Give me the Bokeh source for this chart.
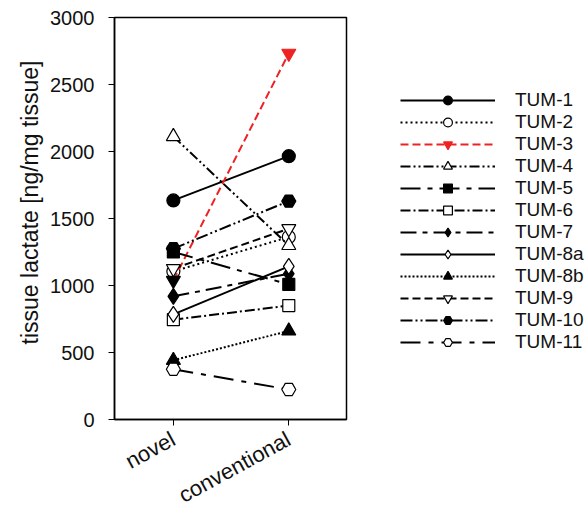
import math
from bokeh.plotting import figure
from bokeh.layouts import row
from bokeh.models import Legend, LegendItem, Title, FixedTicker
from bokeh.embed import file_html
from bokeh.resources import INLINE

# ---- data ----
groups = ["novel", "conventional"]
x_pos = [1, 2]
names = ["TUM-1", "TUM-2", "TUM-3", "TUM-4", "TUM-5", "TUM-6",
         "TUM-7", "TUM-8a", "TUM-8b", "TUM-9", "TUM-10", "TUM-11"]
tum1 = [1635, 1965]
tum2 = [1105, 1362]
tum3 = [1038, 2733]
tum4 = [2112, 1299]
tum5 = [1250, 1008]
tum6 = [745, 850]
tum7 = [919, 1088]
tum8a = [785, 1143]
tum8b = [442, 661]
tum9 = [1126, 1424]
tum10 = [1275, 1630]
tum11 = [375, 224]
values = [tum1, tum2, tum3, tum4, tum5, tum6, tum7, tum8a, tum8b, tum9, tum10, tum11]
y_ticks = [0, 500, 1000, 1500, 2000, 2500, 3000]
y_title = "tissue lactate [ng/mg tissue]"

# ---- styles ----
styles = [
    dict(marker="circle", fill="black", dash="solid", color="black", size=13),
    dict(marker="circle", fill="white", dash="2 3", color="black", size=13),
    dict(marker="inverted_triangle", fill="#ee2222", dash="8 4", color="#ee2222", size=14),
    dict(marker="triangle", fill="white", dash="10 3 2 3 2 3", color="black", size=14),
    dict(marker="square", fill="black", dash="20 7 5 7", color="black", size=12),
    dict(marker="square", fill="white", dash="10 3 2 3", color="black", size=12),
    dict(marker="diamond", fill="black", dash="16 6 5 6", color="black", size=16),
    dict(marker="diamond", fill="white", dash="solid", color="black", size=16),
    dict(marker="triangle", fill="black", dash="2 2", color="black", size=14),
    dict(marker="inverted_triangle", fill="white", dash="8 4", color="black", size=14),
    dict(marker="hex", fill="black", dash="12 3 2 3 2 3", color="black", size=14),
    dict(marker="hex", fill="white", dash="20 8 5 8", color="black", size=14),
]

FONT = "Liberation Sans"

p = figure(width=350, height=522, x_range=(0.49, 2.5), y_range=(0, 3000),
           output_backend="svg", toolbar_location=None,
           min_border_left=114, min_border_right=4,
           min_border_top=17, min_border_bottom=103)
p.xgrid.visible = False
p.ygrid.visible = False
p.outline_line_color = "black"
p.outline_line_width = 1.5
p.background_fill_color = "white"
p.border_fill_color = "white"

p.xaxis.ticker = FixedTicker(ticks=x_pos)
p.xaxis.major_label_overrides = {x: g for x, g in zip(x_pos, groups)}
p.xaxis.major_label_orientation = 0.5
p.yaxis.ticker = FixedTicker(ticks=y_ticks)
for ax in (p.xaxis, p.yaxis):
    ax.axis_line_color = "black"
    ax.axis_line_width = 1.5
    ax.major_tick_out = 6
    ax.major_tick_in = 0
    ax.minor_tick_out = 0
    ax.minor_tick_in = 0
    ax.major_tick_line_color = "black"
    ax.major_label_text_font = FONT
    ax.major_label_text_color = "#111111"
p.yaxis.major_label_text_font_size = "20px"
p.xaxis.major_label_text_font_size = "22px"
p.yaxis.major_label_standoff = 14
p.xaxis.major_label_standoff = 12

for name, vals, st in zip(names, values, styles):
    p.line(x_pos, vals, line_color=st["color"], line_width=2, line_dash=st["dash"])
    if name == "TUM-3":
        # novel point appears black in the reference
        p.scatter(x_pos[:1], vals[:1], marker=st["marker"], size=st["size"],
                  fill_color="black", line_color="black", line_width=1.2)
        p.scatter(x_pos[1:], vals[1:], marker=st["marker"], size=st["size"],
                  fill_color=st["fill"], line_color=st["color"], line_width=1.2)
    else:
        p.scatter(x_pos, vals, marker=st["marker"], size=st["size"],
                  fill_color=st["fill"], line_color=st["color"], line_width=1.2)

# leading no-break spaces shift the centred title upward like in the reference
ytitle = Title(text="\u00a0" * 5 + y_title, align="center",
               text_font=FONT, text_font_size="23px", text_font_style="normal",
               text_color="#111111")
p.add_layout(ytitle, "left")

# ---- legend panel (separate figure to the right) ----
lg = figure(width=237, height=522, x_range=(0, 1), y_range=(0, 1),
            output_backend="svg", toolbar_location=None,
            x_axis_location=None, y_axis_location=None,
            min_border_left=0, min_border_right=0,
            min_border_top=0, min_border_bottom=0)
lg.xgrid.visible = False
lg.ygrid.visible = False
lg.outline_line_color = None
lg.background_fill_color = "white"
lg.border_fill_color = "white"

items = []
for name, vals, st in zip(names, values, styles):
    # same series drawn outside this panel's visible range: only the legend shows
    r_line = lg.line(x_pos, vals, line_color=st["color"], line_width=2,
                     line_dash=st["dash"])
    r_pts = lg.scatter(x_pos, vals, marker=st["marker"], size=st["size"] - 1,
                       fill_color=st["fill"], line_color=st["color"], line_width=1.2)
    items.append(LegendItem(label=name, renderers=[r_line, r_pts]))

legend = Legend(items=items, location=(50, 66),
                glyph_width=95, glyph_height=22, label_height=22,
                spacing=0, padding=0, margin=0, label_standoff=20,
                border_line_color=None, background_fill_alpha=0,
                label_text_font=FONT, label_text_font_size="19px",
                label_text_color="#111111")
lg.add_layout(legend, "center")

layout = row(p, lg, spacing=0)
open("out.html", "w").write(file_html(layout, INLINE))
